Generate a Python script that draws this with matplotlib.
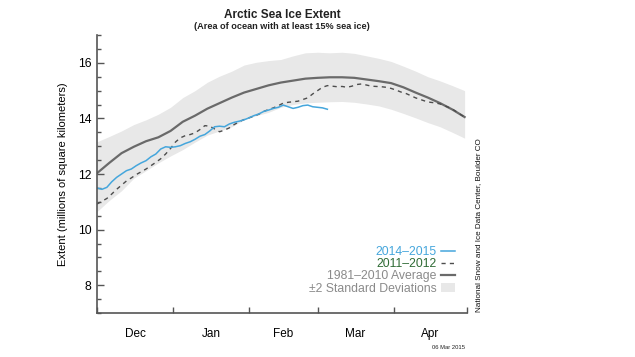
import numpy as np
import matplotlib
matplotlib.use("Agg")
import matplotlib.pyplot as plt
from matplotlib.patches import Patch
from matplotlib.lines import Line2D

plt.rcParams['font.family'] = ['Liberation Sans', 'DejaVu Sans']

# days since 1 Dec
avg_days = np.arange(0, 151, 5)
avg_ext = [12.03, 12.40, 12.75, 12.98, 13.18, 13.32, 13.55, 13.88, 14.10, 14.35,
           14.55, 14.75, 14.93, 15.06, 15.19, 15.29, 15.36, 15.43, 15.46, 15.48,
           15.48, 15.46, 15.40, 15.34, 15.27, 15.12, 14.93, 14.75, 14.55, 14.32, 14.05]
sd_upper = [13.16, 13.35, 13.55, 13.78, 13.95, 14.15, 14.40, 14.75, 15.00, 15.30,
            15.52, 15.70, 15.92, 16.02, 16.08, 16.12, 16.25, 16.36, 16.38, 16.36,
            16.38, 16.34, 16.25, 16.16, 16.05, 15.88, 15.70, 15.50, 15.35, 15.18, 15.00]
sd_lower = [10.65, 11.05, 11.40, 11.85, 12.12, 12.40, 12.65, 12.88, 13.15, 13.40,
            13.55, 13.70, 13.95, 14.10, 14.22, 14.40, 14.50, 14.56, 14.58, 14.60,
            14.61, 14.58, 14.52, 14.45, 14.33, 14.18, 14.02, 13.85, 13.70, 13.50, 13.29]

days_1415 = np.arange(0, 95, 2)
ext_1415 = [11.50, 11.45, 11.52, 11.72, 11.88, 12.00, 12.12, 12.18, 12.30, 12.40,
            12.48, 12.62, 12.72, 12.90, 12.98, 12.96, 12.98, 13.02, 13.10, 13.16,
            13.25, 13.36, 13.42, 13.55, 13.70, 13.72, 13.70, 13.80, 13.86, 13.90,
            13.95, 14.02, 14.10, 14.16, 14.25, 14.30, 14.36, 14.40, 14.48, 14.42,
            14.36, 14.40, 14.46, 14.48, 14.42, 14.40, 14.38, 14.33]

days_1112 = np.arange(0, 151, 2)
ext_1112 = [10.92, 11.02, 11.12, 11.28, 11.45, 11.60, 11.75, 11.86, 11.98, 12.08,
            12.18, 12.30, 12.42, 12.55, 12.72, 12.92, 13.15, 13.30, 13.38, 13.42,
            13.48, 13.60, 13.74, 13.72, 13.62, 13.52, 13.58, 13.66, 13.78, 13.88,
            13.96, 14.02, 14.08, 14.15, 14.25, 14.32, 14.38, 14.46, 14.55, 14.58,
            14.60, 14.62, 14.68, 14.74, 14.88, 15.00, 15.12, 15.18, 15.16, 15.14,
            15.15, 15.12, 15.16, 15.22, 15.24, 15.20, 15.16, 15.15, 15.14, 15.12,
            15.08, 15.02, 14.95, 14.90, 14.82, 14.74, 14.68, 14.62, 14.58, 14.56,
            14.52, 14.45, 14.38, 14.28, 14.16, 14.05]

month_edges = [0, 31, 62, 90, 121, 151]
month_names = ['Dec', 'Jan', 'Feb', 'Mar', 'Apr']

blue = '#45a6dc'
green = '#2f6b35'
grey = '#6a6a6a'
band = '#e8e8e8'

fig = plt.figure(figsize=(6.35, 3.57), dpi=100)
ax = fig.add_axes([0.1528, 0.1232, 0.5827, 0.7787])

ax.fill_between(avg_days, sd_lower, sd_upper, color=band, lw=0)
ax.plot(avg_days, avg_ext, color=grey, lw=1.6)
ax.plot(days_1112, ext_1112, color='#4d4d4d', lw=1.0, ls=(0, (3, 3)))
ax.plot(days_1415, ext_1415, color=blue, lw=1.1)

ax.set_xlim(0, 151)
ax.set_ylim(7, 17)
ax.set_xticks(month_edges)
ax.set_xticklabels([])
mids = [(a + b) / 2 for a, b in zip(month_edges[:-1], month_edges[1:])]
ax.set_xticks(mids, minor=True)
ax.set_xticklabels(month_names, minor=True)
ax.tick_params(axis='x', which='major', direction='in', length=4, width=1, color='#555555')
ax.tick_params(axis='x', which='minor', length=0, pad=11, labelsize=8.5)

ax.set_yticks([8, 10, 12, 14, 16])
ax.set_yticks(np.arange(7, 17.01, 0.5), minor=True)
ax.tick_params(axis='y', which='major', direction='in', length=5, width=1, color='#555555', labelsize=8.8, pad=4)
ax.tick_params(axis='y', which='minor', direction='in', length=3, width=1, color='#555555')

for s in ['top', 'right']:
    ax.spines[s].set_visible(False)
for s in ['left', 'bottom']:
    ax.spines[s].set_color('#555555')
    ax.spines[s].set_linewidth(1.2)

ax.set_ylabel('Extent (millions of square kilometers)', fontsize=8, labelpad=7)

fig.text(0.444, 0.957, 'Arctic Sea Ice Extent', ha='center', va='center',
         fontsize=8.5, fontweight='bold', color='#222222')
fig.text(0.444, 0.926, '(Area of ocean with at least 15% sea ice)', ha='center', va='center',
         fontsize=6.6, fontweight='bold', color='#222222')

handles = [Line2D([], [], color=blue, lw=1.1),
           Line2D([], [], color='#4d4d4d', lw=1.0, ls=(0, (3, 3))),
           Line2D([], [], color=grey, lw=1.6),
           Patch(facecolor=band, edgecolor='none')]
labels = ['2014\u20132015', '2011\u20132012', '1981\u20132010 Average', '\u00b12 Standard Deviations']
leg = ax.legend(handles, labels, loc='lower right', bbox_to_anchor=(0.99, 0.035),
                frameon=False, markerfirst=False, fontsize=8.8, handlelength=1.1,
                handletextpad=0.4, labelspacing=0.02, borderpad=0.2,
                labelcolor=[blue, green, '#8a8a8a', '#8a8a8a'])

fig.text(0.753, 0.125, 'National Snow and Ice Data Center, Boulder CO', rotation=90,
         ha='center', va='bottom', fontsize=5.9, color='#111111')
fig.text(0.706, 0.028, '06 Mar 2015', ha='center', va='center', fontsize=4.2, color='#222222')

fig.savefig('out.png', dpi=100)
